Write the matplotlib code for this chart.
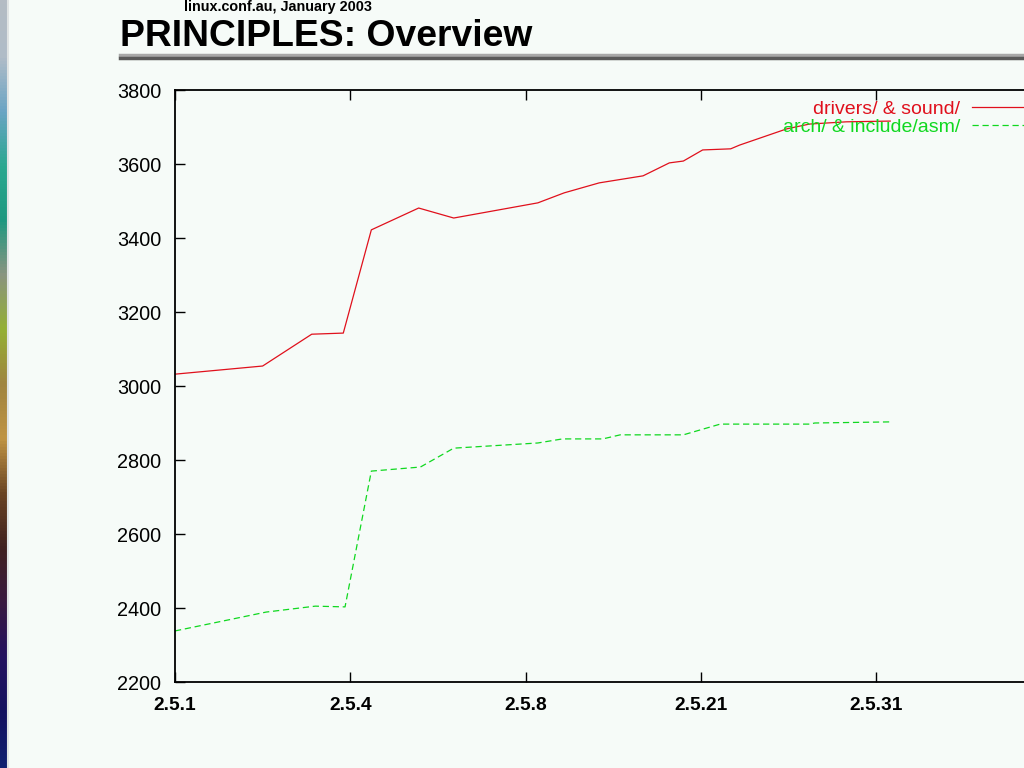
import numpy as np
import matplotlib
matplotlib.use('Agg')
import matplotlib.pyplot as plt
from matplotlib.colors import LinearSegmentedColormap

# x in units of the tick spacing (one unit per labelled release)
tick_pos = [0, 1, 2, 3, 4]
tick_labels = ['2.5.1', '2.5.4', '2.5.8', '2.5.21', '2.5.31']

drivers_x = [0.00, 0.50, 0.78, 0.96, 1.12, 1.39, 1.59, 2.07, 2.22, 2.42, 2.67,
             2.82, 2.90, 3.01, 3.17, 3.22, 3.49, 3.62, 3.83, 4.08]
drivers_y = [3032, 3054, 3140, 3143, 3422, 3481, 3454, 3495, 3522, 3549, 3568,
             3603, 3608, 3638, 3641, 3651, 3695, 3708, 3714, 3716]

arch_x = [0.00, 0.52, 0.80, 0.97, 1.12, 1.40, 1.59, 2.07, 2.21, 2.44, 2.54,
          2.90, 3.11, 3.62, 3.65, 4.08]
arch_y = [2338, 2389, 2405, 2403, 2770, 2781, 2832, 2846, 2857, 2857, 2868,
          2868, 2897, 2897, 2900, 2903]

bg = '#f6fbf8'
plt.rcParams['font.family'] = ['Liberation Sans', 'DejaVu Sans']

fig = plt.figure(figsize=(10.24, 7.68), dpi=100, facecolor=bg)

# coloured strip on the left edge
strip_colors = ['#b4bcc4', '#b0bcc8', '#6aa4c4', '#2aa890', '#1e9880', '#8a9480',
                '#94b034', '#a08440', '#c09444', '#6a4424', '#402020', '#3a1a40',
                '#241060', '#141060', '#102070']
cmap = LinearSegmentedColormap.from_list('strip', strip_colors)
sax = fig.add_axes([0, 0, 7 / 1024, 1])
sax.imshow(np.linspace(0, 1, 256).reshape(-1, 1), aspect='auto', cmap=cmap)
sax.axis('off')
fig.add_artist(plt.Line2D([7.5 / 1024, 7.5 / 1024], [0, 1], color='#e0e4e4', lw=1.5))

# header
fig.text(184 / 1024, 1 - 7.5 / 768, 'linux.conf.au, January 2003', fontsize=10.4,
         fontweight='bold', va='center', ha='left')
fig.text(120 / 1024, 1 - 37 / 768, 'PRINCIPLES: Overview', fontsize=26.8,
         fontweight='bold', va='center', ha='left')
fig.add_artist(plt.Line2D([120 / 1024, 1], [1 - 54.5 / 768] * 2, color='#a8a8a8', lw=2.5))
fig.add_artist(plt.Line2D([120 / 1024, 1], [1 - 58 / 768] * 2, color='#5a5a5a', lw=2.5))

# plot area (runs off the right edge like the original slide)
left, right, top, bottom = 175, 1045, 90, 682
ax = fig.add_axes([left / 1024, 1 - bottom / 768, (right - left) / 1024, (bottom - top) / 768])
ax.set_facecolor(bg)
unit = 175.3
ax.set_xlim(0, (right - left) / unit)
ax.set_ylim(2200, 3800)

l1, = ax.plot(drivers_x, drivers_y, color='#e0101c', lw=0.9)
l2, = ax.plot(arch_x, arch_y, color='#10d820', lw=0.9, dashes=(5, 3))

ax.set_xticks(tick_pos)
ax.set_xticklabels(tick_labels, fontsize=13.8, fontweight='bold')
ax.set_yticks(range(2200, 3801, 200))
ax.tick_params(axis='y', labelsize=14.3)
ax.tick_params(direction='in', length=7, width=1, top=True, right=True)
ax.tick_params(axis='y', pad=10)
ax.tick_params(axis='x', pad=11)
for s in ax.spines.values():
    s.set_linewidth(1.3)

leg = ax.legend([l1, l2], ['drivers/ & sound/', 'arch/ & include/asm/'],
                loc='upper right', bbox_to_anchor=(1073 / 1024, 1 - 100 / 768),
                bbox_transform=fig.transFigure, markerfirst=False, frameon=False,
                fontsize=14, handlelength=5.2, handletextpad=0.6,
                labelspacing=0.02, borderpad=0, borderaxespad=0,
                labelcolor='linecolor')

fig.savefig('out.png', dpi=100, facecolor=bg)
